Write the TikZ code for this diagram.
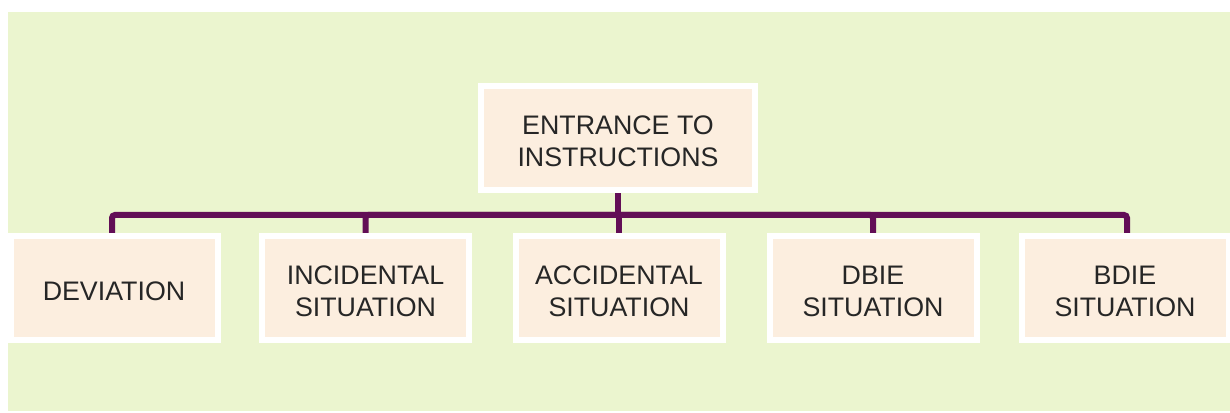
\documentclass[tikz,border=0pt]{standalone}
\usepackage{fontspec}
\setmainfont{Liberation Sans}
\usetikzlibrary{backgrounds}
\definecolor{bggreen}{RGB}{235,245,207}
\definecolor{boxfill}{RGB}{252,238,223}
\definecolor{conncol}{RGB}{98,14,86}
\definecolor{txtcol}{RGB}{38,38,38}
\tikzset{
  box/.style={draw=white, line width=6pt, fill=boxfill, minimum height=104pt,
    inner sep=0pt},
  lbl/.style={align=center, text=txtcol, yshift=-3pt,
    font=\fontsize{26.8}{32}\selectfont},
  leaf/.style={box, minimum width=207pt},
  conn/.style={draw=conncol, line width=6pt, rounded corners=3pt}
}
\begin{document}
\begin{tikzpicture}[x=1pt,y=1pt]
\useasboundingbox (0,0) rectangle (1230,412);
\node[box, minimum width=274pt, label={[lbl]center:ENTRANCE TO\\INSTRUCTIONS}] (top) at (618,274) {};
\node[leaf, label={[lbl]center:DEVIATION}] (b1) at (114,124) {};
\node[leaf, label={[lbl]center:INCIDENTAL\\SITUATION}] (b2) at (365.5,124) {};
\node[leaf, label={[lbl]center:ACCIDENTAL\\SITUATION}] (b3) at (619,124) {};
\node[leaf, label={[lbl]center:DBIE\\SITUATION}] (b4) at (873,124) {};
\node[leaf, label={[lbl]center:BDIE\\SITUATION}] (b5) at (1125,124) {};
\coordinate (bus) at (619,197);
\begin{scope}[on background layer]
\fill[bggreen] (8,1) rectangle (1230,400);
\draw[conn] (top.south) -- (top.south |- bus);
\draw[conn] (bus) -| ([xshift=-2pt]b1.north);
\draw[conn] (bus) -| (b2.north);
\draw[conn] (bus) -- (b3.north);
\draw[conn] (bus) -| (b4.north);
\draw[conn] (bus) -| ([xshift=2pt]b5.north);
\end{scope}
\end{tikzpicture}
\end{document}
